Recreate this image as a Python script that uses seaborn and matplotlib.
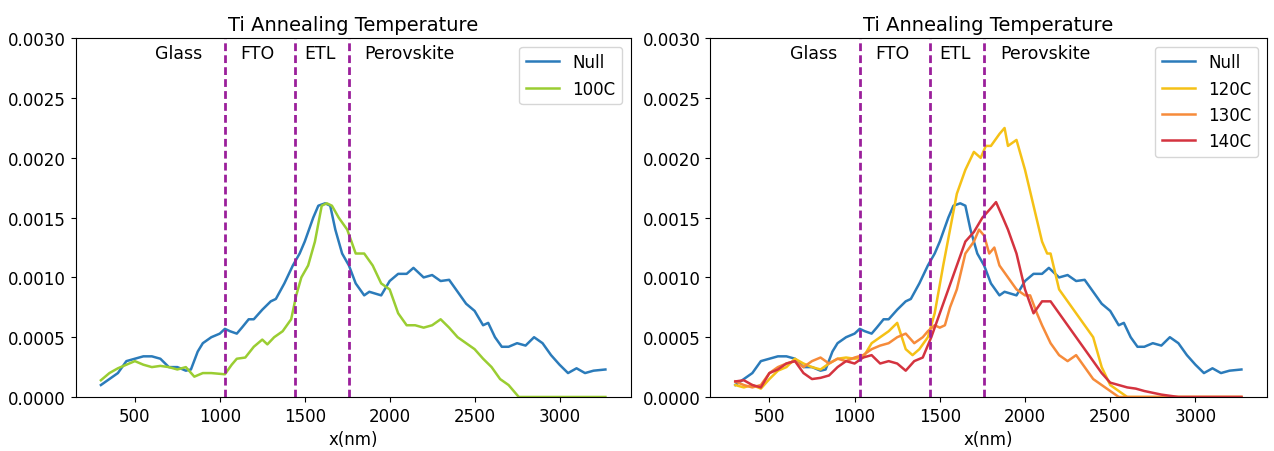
import matplotlib
matplotlib.use("Agg")
import matplotlib.pyplot as plt
import seaborn as sns
import pandas as pd

# ---------------- data ----------------
null_x = [300, 400, 450, 500, 550, 600, 650, 700, 750, 800, 830, 870, 900, 950, 1000,
          1030, 1060, 1100, 1130, 1170, 1200, 1250, 1300, 1330, 1380, 1430, 1470, 1500,
          1550, 1580, 1620, 1650, 1680, 1720, 1760, 1800, 1850, 1880, 1950, 2000, 2050,
          2100, 2140, 2200, 2250, 2300, 2350, 2400, 2450, 2500, 2550, 2580, 2620, 2660,
          2700, 2750, 2800, 2850, 2900, 2950, 3000, 3050, 3100, 3150, 3200, 3270]
null_y = [0.00010, 0.00020, 0.00030, 0.00032, 0.00034, 0.00034, 0.00032, 0.00025, 0.00025,
          0.00022, 0.00023, 0.00038, 0.00045, 0.00050, 0.00053, 0.00057, 0.00055, 0.00053,
          0.00058, 0.00065, 0.00065, 0.00073, 0.00080, 0.00082, 0.00095, 0.00110, 0.00120,
          0.00130, 0.00150, 0.00160, 0.00162, 0.00160, 0.00140, 0.00120, 0.00110, 0.00095,
          0.00085, 0.00088, 0.00085, 0.00097, 0.00103, 0.00103, 0.00108, 0.00100, 0.00102,
          0.00097, 0.00098, 0.00088, 0.00078, 0.00072, 0.00060, 0.00062, 0.00050, 0.00042,
          0.00042, 0.00045, 0.00043, 0.00050, 0.00045, 0.00035, 0.00027, 0.00020, 0.00024,
          0.00020, 0.00022, 0.00023]

c100_x = [300, 350, 400, 450, 500, 550, 600, 650, 700, 750, 800, 850, 900, 950, 1030,
          1070, 1100, 1150, 1200, 1250, 1280, 1320, 1370, 1420, 1450, 1480, 1520, 1560,
          1600, 1630, 1660, 1700, 1750, 1800, 1850, 1900, 1950, 2000, 2050, 2100, 2150,
          2200, 2250, 2300, 2350, 2400, 2450, 2500, 2550, 2600, 2650, 2700, 2760, 3270]
c100_y = [0.00014, 0.00020, 0.00024, 0.00027, 0.00030, 0.00027, 0.00025, 0.00026, 0.00025,
          0.00023, 0.00025, 0.00017, 0.00020, 0.00020, 0.00019, 0.00027, 0.00032, 0.00033,
          0.00042, 0.00048, 0.00044, 0.00050, 0.00055, 0.00065, 0.00085, 0.00100, 0.00110,
          0.00130, 0.00160, 0.00162, 0.00160, 0.00150, 0.00140, 0.00120, 0.00120, 0.00110,
          0.00095, 0.00090, 0.00070, 0.00060, 0.00060, 0.00058, 0.00060, 0.00065, 0.00058,
          0.00050, 0.00045, 0.00040, 0.00032, 0.00025, 0.00015, 0.00010, 0.00000, 0.00000]

c120_x = [300, 350, 400, 450, 500, 550, 600, 650, 700, 750, 800, 850, 900, 950, 1000,
          1050, 1100, 1150, 1200, 1250, 1300, 1340, 1380, 1430, 1470, 1520, 1560, 1600,
          1650, 1700, 1740, 1770, 1800, 1850, 1880, 1900, 1950, 2000, 2050, 2100, 2130,
          2150, 2200, 2250, 2300, 2350, 2400, 2450, 2500, 2550, 2600, 3270]
c120_y = [0.00010, 0.00008, 0.00010, 0.00007, 0.00015, 0.00022, 0.00025, 0.00032, 0.00028,
          0.00025, 0.00023, 0.00028, 0.00032, 0.00033, 0.00032, 0.00033, 0.00045, 0.00050,
          0.00055, 0.00062, 0.00040, 0.00035, 0.00040, 0.00050, 0.00070, 0.00110, 0.00140,
          0.00170, 0.00190, 0.00205, 0.00200, 0.00210, 0.00210, 0.00220, 0.00225, 0.00210,
          0.00215, 0.00190, 0.00160, 0.00130, 0.00120, 0.00120, 0.00090, 0.00080, 0.00070,
          0.00060, 0.00050, 0.00025, 0.00010, 0.00005, 0.00000, 0.00000]

c130_x = [300, 350, 400, 450, 500, 550, 600, 650, 700, 750, 800, 850, 900, 950, 1000,
          1050, 1100, 1150, 1200, 1250, 1300, 1350, 1400, 1430, 1470, 1500, 1530, 1560,
          1600, 1650, 1700, 1730, 1760, 1790, 1820, 1850, 1900, 1950, 2000, 2030, 2070,
          2100, 2150, 2200, 2250, 2300, 2350, 2400, 2450, 2500, 2550, 3270]
c130_y = [0.00013, 0.00010, 0.00008, 0.00010, 0.00020, 0.00025, 0.00028, 0.00030, 0.00025,
          0.00030, 0.00033, 0.00028, 0.00032, 0.00030, 0.00033, 0.00035, 0.00040, 0.00043,
          0.00045, 0.00050, 0.00053, 0.00045, 0.00050, 0.00055, 0.00060, 0.00058, 0.00060,
          0.00075, 0.00090, 0.00120, 0.00130, 0.00140, 0.00135, 0.00120, 0.00125, 0.00110,
          0.00100, 0.00090, 0.00085, 0.00085, 0.00070, 0.00060, 0.00045, 0.00035, 0.00030,
          0.00035, 0.00025, 0.00015, 0.00010, 0.00005, 0.00000, 0.00000]

c140_x = [300, 350, 400, 450, 500, 550, 600, 650, 700, 750, 800, 850, 900, 950, 1000,
          1050, 1100, 1150, 1200, 1250, 1300, 1350, 1400, 1450, 1500, 1550, 1600, 1650,
          1700, 1750, 1800, 1830, 1870, 1900, 1950, 2000, 2050, 2100, 2150, 2200, 2250,
          2300, 2350, 2400, 2450, 2500, 2550, 2600, 2650, 2700, 2800, 2900, 3270]
c140_y = [0.00013, 0.00014, 0.00010, 0.00008, 0.00020, 0.00023, 0.00028, 0.00030, 0.00020,
          0.00015, 0.00016, 0.00018, 0.00025, 0.00030, 0.00028, 0.00033, 0.00035, 0.00028,
          0.00030, 0.00028, 0.00022, 0.00030, 0.00033, 0.00050, 0.00070, 0.00090, 0.00110,
          0.00130, 0.00138, 0.00150, 0.00158, 0.00163, 0.00150, 0.00140, 0.00120, 0.00090,
          0.00070, 0.00080, 0.00080, 0.00070, 0.00060, 0.00050, 0.00040, 0.00030, 0.00020,
          0.00012, 0.00010, 0.00008, 0.00007, 0.00005, 0.00002, 0.00000, 0.00000]

layer_bounds = [1030, 1440, 1760]
layer_labels = ["Glass", "FTO", "ETL", "Perovskite"]
layer_label_x = [760, 1220, 1590, 2118]
y_ticks = [0.0000, 0.0005, 0.0010, 0.0015, 0.0020, 0.0025, 0.0030]
x_ticks = [500, 1000, 1500, 2000, 2500, 3000]
title = "Ti Annealing Temperature"
xlabel = "x(nm)"

left_series = [("Null", null_x, null_y, "#2b7bba"),
               ("100C", c100_x, c100_y, "#9acd32")]
right_series = [("Null", null_x, null_y, "#2b7bba"),
                ("120C", c120_x, c120_y, "#f5c116"),
                ("130C", c130_x, c130_y, "#f68b3a"),
                ("140C", c140_x, c140_y, "#d4333f")]

# ---------------- figure ----------------
plt.rcParams["font.family"] = ["DejaVu Sans"]
fig = plt.figure(figsize=(12.74, 4.52), dpi=100)
ax1 = fig.add_axes([0.0594, 0.1195, 0.4356, 0.7935])
ax2 = fig.add_axes([0.5573, 0.1195, 0.4370, 0.7935])

for ax, series in ((ax1, left_series), (ax2, right_series)):
    for name, xs, ys, col in series:
        df = pd.DataFrame({"x": xs, "y": ys})
        sns.lineplot(data=df, x="x", y="y", color=col, label=name, lw=1.8, ax=ax,
                     estimator=None, sort=True)
    for xb in layer_bounds:
        ax.axvline(xb, color="#9b1f9b", ls="--", lw=2.0, dashes=(2.8, 1.5))
    for lab, lx in zip(layer_labels, layer_label_x):
        ax.text(lx, 0.00288, lab, ha="center", va="center", fontsize=12.5)
    ax.set_ylim(0, 0.003)
    ax.set_yticks(y_ticks)
    ax.set_yticklabels([f"{v:.4f}" for v in y_ticks])
    ax.set_xticks(x_ticks)
    ax.tick_params(labelsize=12)
    ax.set_title(title, fontsize=14)
    ax.set_xlabel(xlabel, fontsize=12)
    ax.set_ylabel("")
    ax.legend(loc="upper right", fontsize=12)

fig.savefig("out.png", dpi=100)
